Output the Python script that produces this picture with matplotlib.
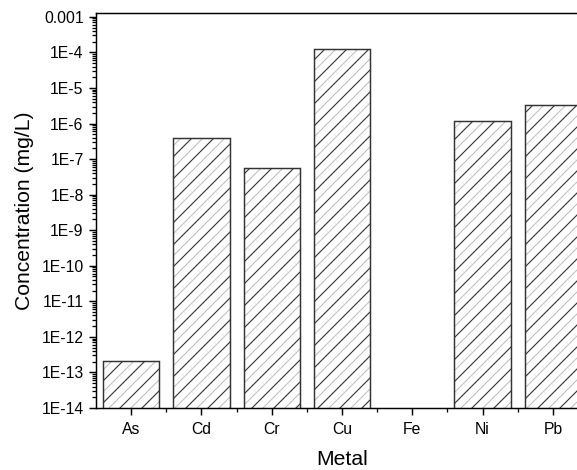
import matplotlib
matplotlib.use("Agg")
import matplotlib.pyplot as plt
import numpy as np
from matplotlib.ticker import LogLocator, FixedLocator, NullFormatter

metals = ["As", "Cd", "Cr", "Cu", "Fe", "Ni", "Pb"]
conc = [2.1e-13, 3.8e-7, 5.5e-8, 1.25e-4, np.nan, 1.2e-6, 3.3e-6]
ytick_vals = [1e-14, 1e-13, 1e-12, 1e-11, 1e-10, 1e-9, 1e-8,
              1e-7, 1e-6, 1e-5, 1e-4, 1e-3]
ytick_labels = ["1E-14", "1E-13", "1E-12", "1E-11", "1E-10", "1E-9", "1E-8",
                "1E-7", "1E-6", "1E-5", "1E-4", "0.001"]

plt.rcParams['font.family'] = ['Liberation Sans', 'DejaVu Sans']
plt.rcParams['hatch.linewidth'] = 0.55

dpi = 132
fig = plt.figure(figsize=(577 / dpi, 470 / dpi), dpi=dpi)
ax = fig.add_axes([96 / 577, 62 / 470, 492 / 577, 395 / 470])

x = np.arange(len(metals))
# gray lines underneath, black lines on top -> alternating hatch
ax.bar(x, conc, width=0.8, color="white", edgecolor="#bcbcbc",
       hatch="////", linewidth=0)
ax.bar(x, conc, width=0.8, facecolor="none", edgecolor="#333333",
       hatch="//", linewidth=0.8)

ax.set_yscale("log")
ax.set_ylim(1e-14, 1.28e-3)
ax.set_xlim(-0.5, 6.5)
ax.set_yticks(ytick_vals)
ax.set_yticklabels(ytick_labels)
ax.yaxis.set_minor_locator(LogLocator(base=10, subs=np.arange(2, 10), numticks=100))
ax.yaxis.set_minor_formatter(NullFormatter())
ax.set_xticks(x)
ax.set_xticklabels(metals)
ax.xaxis.set_minor_locator(FixedLocator(x[:-1] + 0.5))

ax.tick_params(axis="both", which="major", direction="out", length=3.8,
               width=0.8, labelsize=8.6, pad=3)
ax.tick_params(axis="x", which="major", pad=4)
ax.tick_params(axis="both", which="minor", direction="out", length=2.2,
               width=0.7)
for s in ax.spines.values():
    s.set_linewidth(0.8)

ax.set_xlabel("Metal", fontsize=11.5, labelpad=7)
ax.set_ylabel("Concentration (mg/L)", fontsize=11.5, labelpad=4)

fig.savefig("out.png", dpi=dpi)
